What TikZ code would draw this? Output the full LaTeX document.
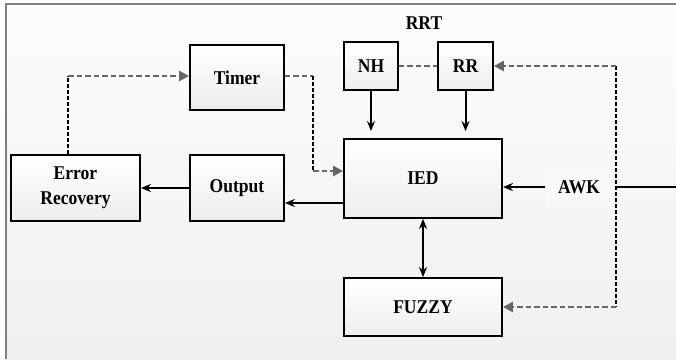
\documentclass[tikz,border=0pt]{standalone}
\usepackage{fontspec}
\setmainfont{Liberation Serif}[FakeStretch=0.9]
\usetikzlibrary{arrows.meta}
\begin{document}
\begin{tikzpicture}[x=1pt,y=-1pt,
  blk/.style={draw=black, line width=1.8pt, top color=white, bottom color=black!7, font=\bfseries\fontsize{19.5}{25}\selectfont, align=center, inner sep=0pt},
  sol/.style={line width=2pt, -{Stealth[length=10pt,width=8pt]}},
  vdash/.style={black, line width=2.6pt, dash pattern=on 4pt off 2pt},
  hdash/.style={black!60, line width=2.6pt, dash pattern=on 5.5pt off 3pt},
  gtip/.style={-{Triangle[length=10pt,width=10pt]}},
  lbl/.style={font=\bfseries\fontsize{19.5}{21}\selectfont, inner sep=0pt}
]
\useasboundingbox (0,0) rectangle (676,359);
\fill[white] (0,0) rectangle (676,359);
\shade[top color=black!1, bottom color=black!6] (6,4) rectangle (676,359);
\draw[black!50, line width=1.5pt] (676,4) -- (6,4) -- (6,359);

\node[blk, minimum width=129pt, minimum height=66pt] (err) at (75.5,188) {Error\\Recovery};
\node[blk, minimum width=94pt, minimum height=66pt] (output) at (237,188) {Output};
\node[blk, minimum width=94pt, minimum height=65pt] (timer) at (237,77.5) {Timer};
\node[blk, minimum width=54pt, minimum height=48pt] (nh) at (371,66) {NH};
\node[blk, minimum width=55pt, minimum height=48pt] (rr) at (465.5,66) {RR};
\node[blk, minimum width=158pt, minimum height=79pt] (ied) at (423,178.5) {IED};
\node[blk, minimum width=158pt, minimum height=58pt] (fuzzy) at (423,307) {FUZZY};
\node[lbl] (rrt) at (424,23) {RRT};
\node[lbl, fill=white, fill opacity=0.35, text opacity=1, minimum width=68pt, minimum height=38pt] (awk) at (579,187) {AWK};

% solid connectors
\draw[sol] (ied.west |- 0,203) -- (output.east |- 0,203);
\draw[sol] (output.west) -- (err.east);
\draw[sol, shorten >=7pt] (nh.south) -- (nh.south |- ied.north);
\draw[sol, shorten >=7pt] (rr.south) -- (rr.south |- ied.north);
\draw[sol, {Stealth[length=10pt,width=8pt]}-{Stealth[length=10pt,width=8pt]}] (ied.south) -- (fuzzy.north);
\draw[sol] (awk.west) -- (awk.west -| ied.east);
\coordinate (j) at (616,187);
\coordinate (r) at (676,187);
\draw[line width=2pt] (j) -- (r);

% dashed feedback on the right
\coordinate (top) at (616,66);
\coordinate (bot) at (616,307);
\draw[vdash] (top) -- (bot);
\draw[hdash, gtip] (top) -- (rr.east);
\draw[hdash, gtip] (bot) -- (bot -| fuzzy.east);
\draw[hdash] (nh.east) -- (rr.west);

% error recovery -> timer
\coordinate (e1) at (68,76);
\draw[vdash] (err.north -| e1) -- (e1);
\draw[hdash, gtip] (e1) -- (e1 -| timer.west);

% timer -> IED
\coordinate (t1) at (313,76);
\coordinate (t2) at (313,171);
\draw[hdash] (timer.east |- t1) -- (t1);
\draw[vdash] (t1) -- (t2);
\draw[hdash, gtip] (t2) -- (t2 -| ied.west);
\end{tikzpicture}
\end{document}
